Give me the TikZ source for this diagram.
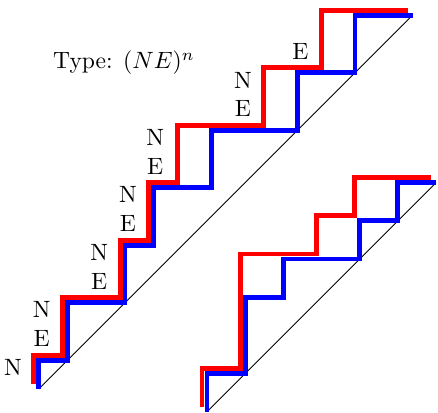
\documentclass[tikz,border=0pt]{standalone}
\usepackage{amsfonts,amssymb,amsmath}
\usepackage{xcolor}
\usepackage{tikz}

\begin{document}
\begin{tikzpicture}[line join=miter,every node/.style={scale=1.07}]
\useasboundingbox(0,0)rectangle(6.986,6.587);
\tikzset{redpath/.style={red,line width=2.2pt},bluepath/.style={blue,line width=2.2pt}}
% left staircase
\begin{scope}[shift={(0.619,0.383)},scale=0.4585]
\draw[thin](0,0)--(13,13);
\draw[redpath,shift={(-0.17,0.17)}](0,0)--(0,1)--(1,1)--(1,3)--(3,3)--(3,5)--(4,5)--(4,7)--(5,7)--(5,9)--(8,9)--(8,11)--(10,11)--(10,13)--(13,13);
\draw[bluepath](0,0)--(0,1)--(1,1)--(1,3)--(3,3)--(3,5)--(4,5)--(4,7)--(6,7)--(6,9)--(9,9)--(9,11)--(11,11)--(11,13)--(13,13);
\node(n1)at(-0.9,0.75){N};
\node(e1)at(0.1,1.75){E};
\node(n2)at(0.1,2.75){N};
\node(e2)at(2.1,3.75){E};
\node(n3)at(2.1,4.75){N};
\node(e3)at(3.1,5.75){E};
\node(n4)at(3.1,6.75){N};
\node(e4)at(4.05,7.75){E};
\node(n5)at(4.05,8.75){N};
\node(e5)at(7.1,9.75){E};
\node(n6)at(7.1,10.75){N};
\node(e6)at(9.1,11.75){E};
\node(type)at(2.96,11.34){Type: $(NE)^n$};
\end{scope}
% right staircase
\begin{scope}[shift={(3.301,0.021)},scale=0.609]
\draw[thin](0,0)--(6,6);
\draw[redpath,shift={(-0.13,0.13)}](0,0)--(0,1)--(1,1)--(1,4)--(3,4)--(3,5)--(4,5)--(4,6)--(6,6);
\draw[bluepath](0,0)--(0,1)--(1,1)--(1,3)--(2,3)--(2,4)--(4,4)--(4,5)--(5,5)--(5,6)--(6,6);
\end{scope}
\end{tikzpicture}
\end{document}
